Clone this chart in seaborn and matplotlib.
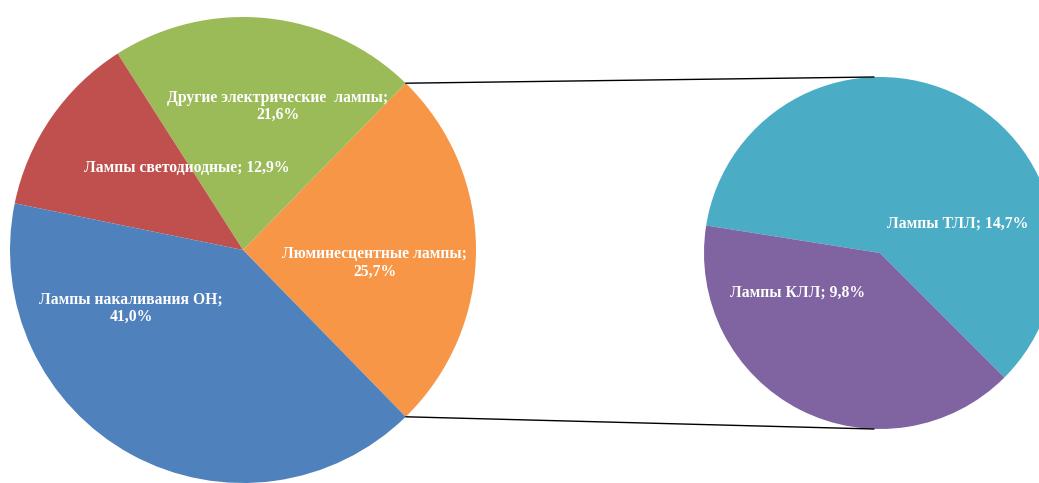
import numpy as np
import matplotlib
matplotlib.use("Agg")
import matplotlib.pyplot as plt
import seaborn as sns

sns.set_style("white")
plt.rcParams['font.family'] = ['Liberation Serif', 'DejaVu Serif']

# main pie (order: split slice first, then counterclockwise)
main_labels = ["Люминесцентные лампы;\n25,7%", "Другие электрические  лампы;\n21,6%",
               "Лампы светодиодные; 12,9%", "Лампы накаливания ОН;\n41,0%"]
main_values = [25.7, 21.6, 12.9, 41.0]
main_colors = ["#F79646", "#9BBB59", "#C0504D", "#4F81BD"]

# secondary pie (breakdown of the split slice)
sub_labels = ["Лампы ТЛЛ; 14,7%", "Лампы КЛЛ; 9,8%"]
sub_values = [14.7, 9.8]
sub_colors = ["#4BACC6", "#8064A2"]

W, H = 1039, 483
fig = plt.figure(figsize=(W / 100, H / 100), dpi=100)
ax = fig.add_axes([0, 0, 1, 1])

c1, r1 = (243, H - 250), 233
c2, r2 = (880, H - 253), 176

split_angle = 360 * main_values[0] / sum(main_values)
w1, _ = ax.pie(main_values, colors=main_colors, center=c1, radius=r1,
               startangle=-split_angle / 2, counterclock=True,
               wedgeprops=dict(linewidth=0), frame=True)
w2, _ = ax.pie(sub_values, colors=sub_colors, center=c2, radius=r2,
               startangle=-45, counterclock=True,
               wedgeprops=dict(linewidth=0), frame=True)

# label offsets from pie centre (fractions of radius)
main_pos = [(0.565, -0.056), (0.15, 0.615), (-0.24, 0.35), (-0.48, -0.25)]
sub_pos = [(0.44, 0.17), (-0.47, -0.225)]
for lab, (dx, dy) in zip(main_labels, main_pos):
    ax.text(c1[0] + dx * r1, c1[1] + dy * r1, lab, ha="center", va="center",
            color="white", fontweight="bold", fontsize=11.3, linespacing=1.1)
for lab, (dx, dy) in zip(sub_labels, sub_pos):
    ax.text(c2[0] + dx * r2, c2[1] + dy * r2, lab, ha="center", va="center",
            color="white", fontweight="bold", fontsize=11.3)

# connector lines from split slice edges to secondary pie
for ang, sgn in [(w1[0].theta2, 1), (w1[0].theta1, -1)]:
    a = np.deg2rad(ang)
    x0, y0 = c1[0] + r1 * np.cos(a), c1[1] + r1 * np.sin(a)
    ax.plot([x0, c2[0] - 6], [y0, c2[1] + sgn * r2], color="black", lw=1)

ax.set_xlim(0, W)
ax.set_ylim(0, H)
ax.set_aspect("equal")
ax.axis("off")
fig.savefig("out.png", dpi=100)
